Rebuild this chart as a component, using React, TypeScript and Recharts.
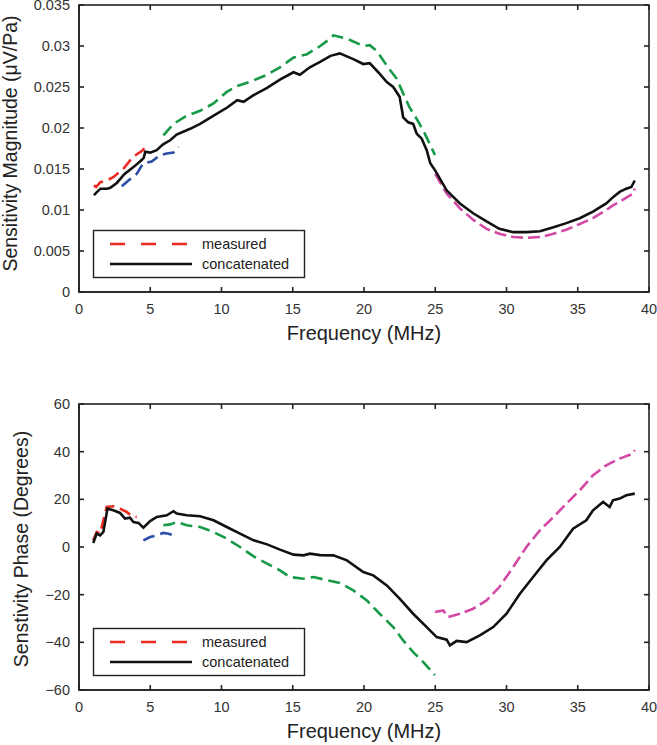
import React from 'react';
import { LineChart, Line, XAxis, YAxis, Legend } from 'recharts';

const FONT = '"Liberation Sans", Arial, Helvetica, sans-serif';
const AXIS = '#222';
const TEXT = '#333';
const SW = 1.6;
const RED = '#ec2a22';
const BLUE = '#2b4fa6';
const GREEN = '#169a48';
const PINK = '#d24aa6';
const BLACK = '#111';

const freqTicks = [0, 5, 10, 15, 20, 25, 30, 35, 40];
const magTicks = [0, 0.005, 0.01, 0.015, 0.02, 0.025, 0.03, 0.035];
const magTickLabels = ['0', '0.005', '0.01', '0.015', '0.02', '0.025', '0.03', '0.035'];
const phaseTicks = [-60, -40, -20, 0, 20, 40, 60];
const phaseTickLabels = ['\u221260', '\u221240', '\u221220', '0', '20', '40', '60'];

// sensitivity magnitude (MHz, uV/Pa)
const magRed = [
  { f: 1.05, v: 0.0130 }, { f: 1.2, v: 0.0128 }, { f: 1.5, v: 0.0134 }, { f: 1.95, v: 0.0136 },
  { f: 2.4, v: 0.0140 }, { f: 3.1, v: 0.0150 }, { f: 3.8, v: 0.0165 }, { f: 4.5, v: 0.0173 },
  { f: 4.7, v: 0.0180 },
];
const magBlue = [
  { f: 3.0, v: 0.0129 }, { f: 3.47, v: 0.0136 }, { f: 4.05, v: 0.0144 }, { f: 4.5, v: 0.0157 },
  { f: 5.1, v: 0.0159 }, { f: 5.7, v: 0.0167 }, { f: 6.16, v: 0.0169 }, { f: 6.63, v: 0.0170 },
  { f: 6.98, v: 0.0177 },
];
const magGreen = [
  { f: 5.92, v: 0.0191 }, { f: 6.63, v: 0.0205 }, { f: 7.56, v: 0.0215 }, { f: 8.5, v: 0.0221 },
  { f: 9.44, v: 0.0230 }, { f: 10.37, v: 0.0244 }, { f: 11.08, v: 0.0251 }, { f: 12.25, v: 0.0258 },
  { f: 13.2, v: 0.0265 }, { f: 14.1, v: 0.0274 }, { f: 15.06, v: 0.0286 }, { f: 16.0, v: 0.0290 },
  { f: 16.93, v: 0.0300 }, { f: 17.63, v: 0.0309 }, { f: 17.85, v: 0.0313 }, { f: 18.8, v: 0.0309 },
  { f: 19.95, v: 0.0300 }, { f: 20.4, v: 0.0301 }, { f: 20.9, v: 0.0294 }, { f: 21.6, v: 0.0276 },
  { f: 22.3, v: 0.0260 }, { f: 22.75, v: 0.0242 }, { f: 23.2, v: 0.0225 }, { f: 23.7, v: 0.0211 },
  { f: 24.16, v: 0.0197 }, { f: 24.6, v: 0.0181 }, { f: 24.98, v: 0.0167 },
];
const magPink = [
  { f: 25.0, v: 0.0144 }, { f: 25.8, v: 0.0120 }, { f: 26.73, v: 0.0102 }, { f: 27.66, v: 0.0088 },
  { f: 28.6, v: 0.0077 }, { f: 29.5, v: 0.0071 }, { f: 30.47, v: 0.0067 }, { f: 31.4, v: 0.0066 },
  { f: 32.35, v: 0.0067 }, { f: 33.3, v: 0.0071 }, { f: 34.2, v: 0.0076 }, { f: 35.14, v: 0.0083 },
  { f: 36.07, v: 0.0090 }, { f: 37.0, v: 0.0100 }, { f: 37.5, v: 0.0106 }, { f: 37.94, v: 0.0110 },
  { f: 38.5, v: 0.0116 }, { f: 38.9, v: 0.0120 }, { f: 39.0, v: 0.0126 },
];
const magConcat = [
  { f: 1.05, v: 0.0118 }, { f: 1.2, v: 0.0121 }, { f: 1.5, v: 0.0126 }, { f: 1.95, v: 0.0126 },
  { f: 2.2, v: 0.0127 }, { f: 2.65, v: 0.0133 }, { f: 3.2, v: 0.0144 }, { f: 3.8, v: 0.0152 },
  { f: 4.4, v: 0.0161 }, { f: 4.55, v: 0.0164 }, { f: 4.65, v: 0.0171 }, { f: 5.0, v: 0.0170 },
  { f: 5.45, v: 0.0173 }, { f: 5.9, v: 0.0180 }, { f: 6.4, v: 0.0185 }, { f: 6.85, v: 0.0192 },
  { f: 7.8, v: 0.0199 }, { f: 8.5, v: 0.0205 }, { f: 9.45, v: 0.0215 }, { f: 10.4, v: 0.0225 },
  { f: 11.1, v: 0.0234 }, { f: 11.55, v: 0.0232 }, { f: 12.25, v: 0.0240 }, { f: 13.2, v: 0.0249 },
  { f: 14.1, v: 0.0259 }, { f: 15.05, v: 0.0268 }, { f: 15.5, v: 0.0265 }, { f: 16.2, v: 0.0274 },
  { f: 16.95, v: 0.0281 }, { f: 17.65, v: 0.0288 }, { f: 18.3, v: 0.0291 }, { f: 19.25, v: 0.0284 },
  { f: 19.95, v: 0.0278 }, { f: 20.4, v: 0.0279 }, { f: 21.0, v: 0.0268 }, { f: 21.6, v: 0.0256 },
  { f: 22.05, v: 0.0250 }, { f: 22.5, v: 0.0238 }, { f: 22.75, v: 0.0213 }, { f: 23.1, v: 0.0207 },
  { f: 23.45, v: 0.0205 }, { f: 23.7, v: 0.0193 }, { f: 24.05, v: 0.0187 }, { f: 24.4, v: 0.0173 },
  { f: 24.65, v: 0.0157 }, { f: 25.0, v: 0.0148 }, { f: 25.8, v: 0.0124 }, { f: 26.73, v: 0.0108 },
  { f: 27.66, v: 0.0096 }, { f: 28.6, v: 0.0086 }, { f: 29.5, v: 0.0077 }, { f: 30.47, v: 0.0073 },
  { f: 31.4, v: 0.0073 }, { f: 32.35, v: 0.0074 }, { f: 33.3, v: 0.0079 }, { f: 34.2, v: 0.0084 },
  { f: 35.14, v: 0.0090 }, { f: 36.07, v: 0.0098 }, { f: 37.0, v: 0.0108 }, { f: 37.5, v: 0.0116 },
  { f: 37.94, v: 0.0122 }, { f: 38.4, v: 0.0126 }, { f: 38.76, v: 0.0128 }, { f: 39.0, v: 0.0136 },
];

// sensitivity phase (MHz, degrees)
const phaseRed = [
  { f: 1.0, v: 2.8 }, { f: 1.24, v: 6.3 }, { f: 1.48, v: 5.6 }, { f: 1.94, v: 16.8 },
  { f: 2.41, v: 17.1 }, { f: 2.88, v: 16.1 }, { f: 3.35, v: 14.7 }, { f: 3.7, v: 12.9 },
  { f: 4.05, v: 12.6 },
];
const phaseBlue = [
  { f: 4.52, v: 2.8 }, { f: 4.99, v: 4.2 }, { f: 5.46, v: 4.9 }, { f: 5.92, v: 5.9 },
  { f: 6.28, v: 5.6 }, { f: 6.63, v: 4.9 },
];
const phaseGreen = [
  { f: 5.92, v: 9.1 }, { f: 6.4, v: 9.5 }, { f: 6.86, v: 10.5 }, { f: 7.56, v: 9.1 },
  { f: 8.5, v: 8.4 }, { f: 9.44, v: 6.3 }, { f: 10.37, v: 3.5 }, { f: 11.3, v: 0 },
  { f: 12.25, v: -3.9 }, { f: 13.2, v: -7.0 }, { f: 14.1, v: -9.8 }, { f: 14.8, v: -12.6 },
  { f: 15.76, v: -13.3 }, { f: 16.46, v: -12.6 }, { f: 17.6, v: -14.2 }, { f: 18.3, v: -15.1 },
  { f: 19.25, v: -18.2 }, { f: 20.2, v: -22.4 }, { f: 21.1, v: -28.0 }, { f: 22.05, v: -33.6 },
  { f: 22.75, v: -39.2 }, { f: 23.45, v: -44.1 }, { f: 24.16, v: -48.3 }, { f: 24.98, v: -53.8 },
];
const phasePink = [
  { f: 24.98, v: -27.3 }, { f: 25.56, v: -26.6 }, { f: 25.9, v: -29.4 }, { f: 26.73, v: -28.0 },
  { f: 27.66, v: -25.9 }, { f: 28.6, v: -22.4 }, { f: 29.5, v: -16.8 }, { f: 30.47, v: -8.4 },
  { f: 31.4, v: 0 }, { f: 32.34, v: 7.0 }, { f: 33.3, v: 12.6 }, { f: 34.2, v: 18.2 },
  { f: 35.14, v: 23.8 }, { f: 36.07, v: 30.1 }, { f: 37.0, v: 34.3 }, { f: 37.94, v: 37.1 },
  { f: 38.87, v: 39.2 }, { f: 39.0, v: 40.6 },
];
const phaseConcat = [
  { f: 1.0, v: 1.7 }, { f: 1.24, v: 5.6 }, { f: 1.48, v: 4.9 }, { f: 1.71, v: 6.3 },
  { f: 2.0, v: 16.1 }, { f: 2.41, v: 15.4 }, { f: 2.88, v: 14.3 }, { f: 3.23, v: 11.9 },
  { f: 3.58, v: 12.3 }, { f: 3.82, v: 10.5 }, { f: 4.17, v: 10.1 }, { f: 4.52, v: 8.1 },
  { f: 4.99, v: 10.9 }, { f: 5.46, v: 12.6 }, { f: 6.16, v: 13.3 }, { f: 6.63, v: 15.0 },
  { f: 6.86, v: 14.0 }, { f: 7.56, v: 13.3 }, { f: 8.5, v: 12.9 }, { f: 9.44, v: 11.2 },
  { f: 10.37, v: 8.4 }, { f: 11.3, v: 5.6 }, { f: 12.25, v: 2.8 }, { f: 13.2, v: 1.1 },
  { f: 14.1, v: -1.1 }, { f: 15.06, v: -3.2 }, { f: 15.76, v: -3.5 }, { f: 16.2, v: -2.8 },
  { f: 16.93, v: -3.4 }, { f: 17.85, v: -3.5 }, { f: 18.8, v: -5.6 }, { f: 19.95, v: -10.5 },
  { f: 20.65, v: -11.9 }, { f: 21.6, v: -16.1 }, { f: 22.5, v: -21.7 }, { f: 23.45, v: -28.0 },
  { f: 24.4, v: -33.6 }, { f: 25.1, v: -37.8 }, { f: 25.8, v: -38.9 }, { f: 26.03, v: -41.3 },
  { f: 26.5, v: -39.4 }, { f: 27.2, v: -39.9 }, { f: 28.13, v: -37.1 }, { f: 29.07, v: -33.6 },
  { f: 30.0, v: -28.0 }, { f: 30.94, v: -19.6 }, { f: 31.87, v: -12.6 }, { f: 32.8, v: -5.6 },
  { f: 33.74, v: 0 }, { f: 34.67, v: 7.7 }, { f: 35.6, v: 11.2 }, { f: 36.07, v: 15.4 },
  { f: 36.78, v: 18.9 }, { f: 37.24, v: 16.8 }, { f: 37.47, v: 19.6 }, { f: 37.94, v: 20.3 },
  { f: 38.41, v: 21.7 }, { f: 39.0, v: 22.4 },
];

const W = 657;
const YAXIS_W = 79;
const RIGHT = 8;
const XAXIS_H = 53;
const TICK = 5;
const tickText = { fontSize: 14.5, fill: TEXT, fontFamily: FONT };

const BottomTick = ({ x, y, payload }: any) => (
  <g>
    <line x1={x} x2={x} y1={y} y2={y - TICK} stroke={AXIS} strokeWidth={SW} />
    <text x={x} y={y + 21.5} textAnchor="middle" {...tickText}>{payload.value}</text>
  </g>
);
const makeLeftTick = (ticks: number[], labels: string[]) => ({ x, y, payload }: any) => (
  <g>
    <line x1={x} x2={x + TICK} y1={y} y2={y} stroke={AXIS} strokeWidth={SW} />
    <text x={x - 9} y={y + 5} textAnchor="end" {...tickText}>{labels[ticks.indexOf(payload.value)]}</text>
  </g>
);

const XTitle = ({ viewBox }: any) => (
  <text x={viewBox.x + viewBox.width / 2} y={viewBox.y + 48} textAnchor="middle"
    fontSize={20} fill="#222" fontFamily={FONT}>Frequency (MHz)</text>
);
const YTitle = ({ viewBox, text, bx, dy }: any) => {
  const cy = viewBox.y + viewBox.height / 2 + dy;
  return (
    <text x={bx} y={cy} transform={`rotate(-90 ${bx} ${cy})`} textAnchor="middle"
      fontSize={19.5} fill="#222" fontFamily={FONT}>{text}</text>
  );
};

// overlay: full box with inward ticks on top/right, plus the legend box
const FrameAndLegend = ({ chartH, plotTop, plotBottom, yDomain, yTicks }: any) => {
  const x0 = YAXIS_W;
  const x1 = W - RIGHT;
  const y0 = plotTop;
  const y1 = plotBottom;
  const fx = (f: number) => x0 + (f / 40) * (x1 - x0);
  const vy = (v: number) => y1 - ((v - yDomain[0]) / (yDomain[1] - yDomain[0])) * (y1 - y0);
  const ly = y1 - 62;
  return (
    <svg width={W} height={chartH} style={{ display: 'block' }}>
      <rect x={x0} y={y0} width={x1 - x0} height={y1 - y0} fill="none" stroke={AXIS} strokeWidth={SW} />
      {freqTicks.map((f) => (
        <line key={`t${f}`} x1={fx(f)} x2={fx(f)} y1={y0} y2={y0 + TICK} stroke={AXIS} strokeWidth={SW} />
      ))}
      {yTicks.map((v: number) => (
        <line key={`r${v}`} x1={x1} x2={x1 - TICK} y1={vy(v)} y2={vy(v)} stroke={AXIS} strokeWidth={SW} />
      ))}
      <g transform={`translate(93,${ly})`}>
        <rect x={0.5} y={0.5} width={211} height={47} fill="#fff" stroke="#222" strokeWidth={1.4} />
        <line x1={17} x2={97} y1={14} y2={14} stroke={RED} strokeWidth={2.6} strokeDasharray="15 16" />
        <text x={109} y={19} fontSize={14.5} fill="#222" fontFamily={FONT}>measured</text>
        <line x1={17} x2={99} y1={34} y2={34} stroke={BLACK} strokeWidth={2.6} />
        <text x={109} y={39} fontSize={14.5} fill="#222" fontFamily={FONT}>concatenated</text>
      </g>
    </svg>
  );
};

const axes = (yDomain: number[], yTicks: number[], yLabels: string[], yTitle: string, titleX: number, titleDy: number) => [
  <XAxis key="xb" dataKey="f" type="number" domain={[0, 40]} ticks={freqTicks} interval={0}
    height={XAXIS_H} tickSize={0} tickMargin={0} tickLine={false} tick={<BottomTick />}
    axisLine={{ stroke: AXIS, strokeWidth: SW }} label={<XTitle />} />,
  <YAxis key="yl" type="number" domain={yDomain} ticks={yTicks} interval={0} width={YAXIS_W}
    tickSize={0} tickMargin={0} tickLine={false} tick={makeLeftTick(yTicks, yLabels)}
    axisLine={{ stroke: AXIS, strokeWidth: SW }}
    label={<YTitle text={yTitle} bx={titleX} dy={titleDy} />} />,
];

const series = (key: string, data: any[], color: string, dash?: string) => (
  <Line key={key} data={data} dataKey="v" type="linear" stroke={color} strokeWidth={2.6}
    strokeDasharray={dash} dot={false} activeDot={false} isAnimationActive={false} />
);

export default function App() {
  return (
    <div style={{ position: 'absolute', left: 0, top: 0, width: 657, height: 745, background: '#fff' }}>
      <div style={{ position: 'absolute', left: 0, top: 0 }}>
        <LineChart width={W} height={345} margin={{ top: 5, right: RIGHT, bottom: 0, left: 0 }}>
          {axes([0, 0.035], magTicks, magTickLabels, 'Sensitivity Magnitude (\u03bcV/Pa)', 17, -5)}
          {series('r', magRed, RED, '12 6')}
          {series('b', magBlue, BLUE, '12 6')}
          {series('g', magGreen, GREEN, '12 6')}
          {series('p', magPink, PINK, '12 5')}
          {series('k', magConcat, BLACK)}
          <Legend layout="vertical" verticalAlign="middle" align="center"
            content={<FrameAndLegend chartH={345} plotTop={5} plotBottom={292}
              yDomain={[0, 0.035]} yTicks={magTicks} />}
            wrapperStyle={{ left: 0, top: 0, width: W, height: 345, pointerEvents: 'none' }} />
        </LineChart>
      </div>
      <div style={{ position: 'absolute', left: 0, top: 345 }}>
        <LineChart width={W} height={400} margin={{ top: 59, right: RIGHT, bottom: 2, left: 0 }}>
          {axes([-60, 60], phaseTicks, phaseTickLabels, 'Senstivity Phase (Degrees)', 28, 2)}
          {series('r', phaseRed, RED, '12 6')}
          {series('b', phaseBlue, BLUE, '12 6')}
          {series('g', phaseGreen, GREEN, '12 6')}
          {series('p', phasePink, PINK, '12 5')}
          {series('k', phaseConcat, BLACK)}
          <Legend layout="vertical" verticalAlign="middle" align="center"
            content={<FrameAndLegend chartH={400} plotTop={59} plotBottom={345}
              yDomain={[-60, 60]} yTicks={phaseTicks} />}
            wrapperStyle={{ left: 0, top: 0, width: W, height: 400, pointerEvents: 'none' }} />
        </LineChart>
      </div>
    </div>
  );
}
